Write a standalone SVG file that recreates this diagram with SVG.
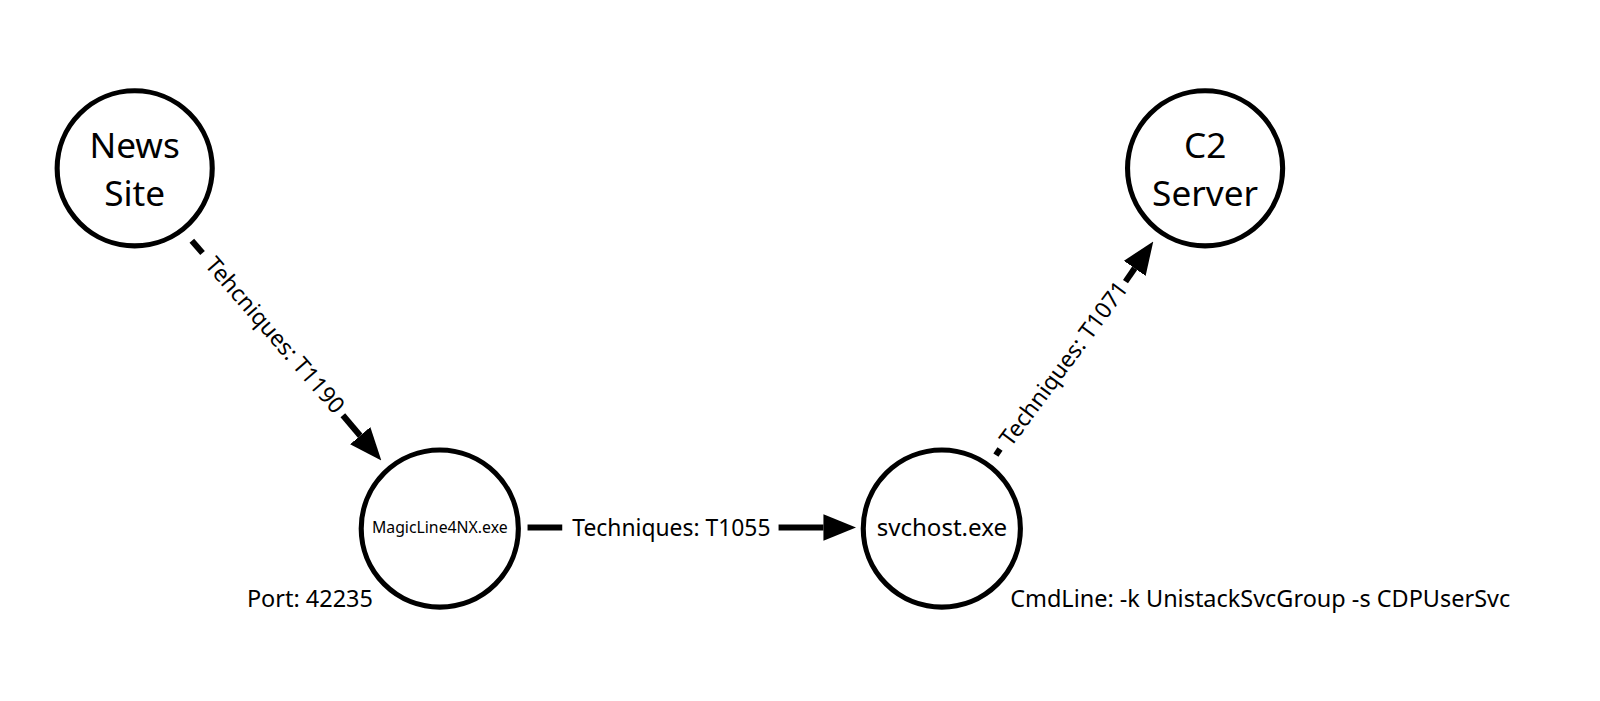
<svg xmlns="http://www.w3.org/2000/svg" width="1600" height="701" viewBox="0 0 1600 701">
<style>
.node{fill:#fff;stroke:#000;stroke-width:5}
.t{font-family:"Noto Sans","Open Sans",sans-serif;fill:#000;text-anchor:middle}
.big{font-size:34.5px}
.lbl{font-size:22.4px;dominant-baseline:central}
.edge{stroke:#000;stroke-width:6;fill:none}
.side{font-family:"Noto Sans","Open Sans",sans-serif;font-size:23px;fill:#000}
</style>
<defs>
<marker id="arr" markerUnits="userSpaceOnUse" markerWidth="32" markerHeight="26" refX="0" refY="13" orient="auto">
<path d="M0,0 L32,13 L0,26 z" fill="#000"/>
</marker>
</defs>
<rect width="1600" height="701" fill="#fff"/>
<g transform="scale(1.0204)">
<g id="connectors">
<g id="e1">
<line class="edge" x1="188" y1="236" x2="198.5" y2="248"/>
<line class="edge" x1="336" y1="407" x2="353" y2="427" marker-end="url(#arr)"/>
<text class="t lbl" transform="translate(270,328) rotate(49)">Tehcniques: T1190</text>
</g>
<g id="e2">
<line class="edge" x1="517" y1="517" x2="551" y2="517"/>
<line class="edge" x1="763" y1="517" x2="807" y2="517" marker-end="url(#arr)"/>
<text class="t lbl" x="658" y="517">Techniques: T1055</text>
</g>
<g id="e3">
<line class="edge" x1="976" y1="446" x2="980" y2="440"/>
<line class="edge" x1="1103" y1="276" x2="1112" y2="263" marker-end="url(#arr)"/>
<text class="t lbl" transform="translate(1042,356) rotate(-53.4)">Techniques: T1071</text>
</g>
</g>
<g id="news-site">
<circle class="node" cx="132" cy="165" r="76"/>
<text class="t big" x="132" y="155">News</text>
<text class="t big" x="132" y="202">Site</text>
</g>
<g id="magicline">
<circle class="node" cx="431" cy="518" r="77"/>
<text class="t" x="431" y="522" font-size="15.5">MagicLine4NX.exe</text>
<text class="side" x="242" y="595">Port: 42235</text>
</g>
<g id="svchost">
<circle class="node" cx="923" cy="518" r="77"/>
<text class="t" x="923" y="525" font-size="23.6">svchost.exe</text>
<text class="side" x="990" y="595">CmdLine: -k UnistackSvcGroup -s CDPUserSvc</text>
</g>
<g id="c2-server">
<circle class="node" cx="1181" cy="165" r="76"/>
<text class="t big" x="1181" y="155">C2</text>
<text class="t big" x="1181" y="202">Server</text>
</g>
</g>
</svg>
